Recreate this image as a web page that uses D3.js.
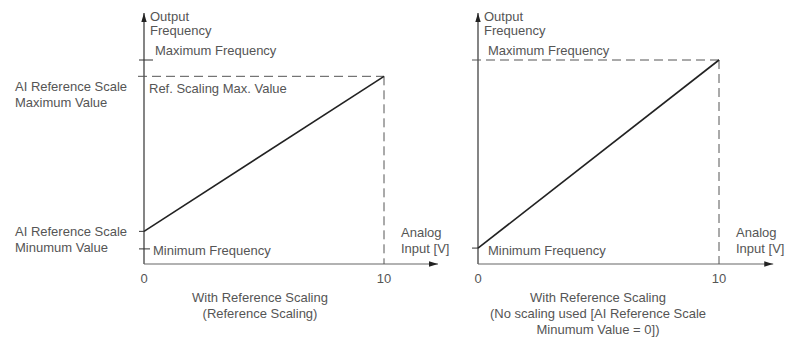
<!DOCTYPE html>
<html><head><meta charset="utf-8">
<script src="https://cdn.jsdelivr.net/npm/d3@7"></script>
<style>
html,body{margin:0;padding:0;background:#fff;}
svg text{font-family:"Liberation Sans",Arial,sans-serif;font-size:13px;fill:#555;}
</style></head>
<body><svg id="c" width="786" height="339"></svg>
<script>
// ---- data ----
const xTicks = [0, 10];
const leftLine = [{x: 0, y: 16}, {x: 10, y: 92}];
const rightLine = [{x: 0, y: 7.8}, {x: 10, y: 100}];
const leftLevels = {maxFreq: 100, refMax: 92, aiMin: 16, minFreq: 7.4};
const rightLevels = {maxFreq: 100, minFreq: 7.8};
const xAxisLabel = ["Analog", "Input [V]"];
const yAxisLabel = ["Output", "Frequency"];
const leftTitle = ["With Reference Scaling", "(Reference Scaling)"];
const rightTitle = ["With Reference Scaling", "(No scaling used [AI Reference Scale", "Minumum Value = 0])"];

const svg = d3.select("#c");
const defs = svg.append("defs");
defs.append("marker").attr("id","arr").attr("viewBox","0 0 10 10")
  .attr("refX",10).attr("refY",5).attr("markerWidth",9).attr("markerHeight",9)
  .attr("markerUnits","userSpaceOnUse").attr("orient","auto")
  .append("path").attr("d","M0,2 L10,5 L0,8 Z").attr("fill","#222");

function panel(x0, x10, cfg) {
  const x = d3.scaleLinear().domain([0, 10]).range([x0, x10]);
  const y = d3.scaleLinear().domain([0, 100]).range([264, 60]);
  const g = svg.append("g");
  // axes
  g.append("line").attr("x1", x(0)).attr("x2", x(0)).attr("y1", y(0)).attr("y2", y(123))
    .attr("stroke","#333").attr("stroke-width",1.2).attr("marker-end","url(#arr)");
  g.append("line").attr("x1", x(0)).attr("x2", x(12.25)).attr("y1", y(0)).attr("y2", y(0))
    .attr("stroke","#666").attr("stroke-width",1.2).attr("marker-end","url(#arr)");
  // tick labels
  g.selectAll(".xt").data(xTicks).enter().append("text")
    .attr("x", d => x(d)).attr("y", 283).attr("text-anchor","middle").text(d => d);
  // axis labels
  g.selectAll(".yl").data(yAxisLabel).enter().append("text")
    .attr("x", x(0) + 6).attr("y", (d,i) => 21 + i*14).text(d => d);
  g.selectAll(".xl").data(xAxisLabel).enter().append("text")
    .attr("x", x(10) + 17).attr("y", (d,i) => 237 + i*16).text(d => d);
  // titles
  g.selectAll(".tt").data(cfg.title).enter().append("text")
    .attr("x", cfg.titleX).attr("y", (d,i) => 302 + i*16).attr("text-anchor","middle").text(d => d);
  // dashed guides
  const top = cfg.line[1];
  g.append("line").attr("x1", x(0) - 6).attr("x2", x(top.x)).attr("y1", y(top.y)).attr("y2", y(top.y))
    .attr("stroke","#555").attr("stroke-width",1).attr("stroke-dasharray","9,5");
  g.append("line").attr("x1", x(top.x)).attr("x2", x(top.x)).attr("y1", y(top.y)).attr("y2", y(0))
    .attr("stroke","#555").attr("stroke-width",1).attr("stroke-dasharray","9,5");
  // data line
  g.append("path").datum(cfg.line)
    .attr("d", d3.line().x(d => x(d.x)).y(d => y(d.y)))
    .attr("fill","none").attr("stroke","#222").attr("stroke-width",1.6);
  return {g, x, y};
}

// left panel
const L = panel(144, 384, {line: leftLine, title: leftTitle, titleX: 260});
L.g.append("line").attr("x1", L.x(0) - 5).attr("x2", L.x(0) + 9)
  .attr("y1", L.y(leftLevels.maxFreq)).attr("y2", L.y(leftLevels.maxFreq)).attr("stroke","#333").attr("stroke-width",1);
L.g.append("line").attr("x1", L.x(0) - 5).attr("x2", L.x(0) + 6)
  .attr("y1", L.y(leftLevels.minFreq)).attr("y2", L.y(leftLevels.minFreq)).attr("stroke","#333").attr("stroke-width",1);
L.g.append("line").attr("x1", L.x(0) - 5).attr("x2", L.x(0))
  .attr("y1", L.y(leftLevels.aiMin)).attr("y2", L.y(leftLevels.aiMin)).attr("stroke","#333").attr("stroke-width",1);
L.g.append("text").attr("x", L.x(0) + 11).attr("y", 55).text("Maximum Frequency");
L.g.append("text").attr("x", L.x(0) + 5).attr("y", 93).text("Ref. Scaling Max. Value");
L.g.append("text").attr("x", L.x(0) + 9).attr("y", 255).text("Minimum Frequency");
L.g.selectAll(".ml").data(["AI Reference Scale", "Maximum Value"]).enter().append("text")
  .attr("x", 15).attr("y", (d,i) => 91 + i*16).text(d => d);
L.g.selectAll(".nl").data(["AI Reference Scale", "Minumum Value"]).enter().append("text")
  .attr("x", 15).attr("y", (d,i) => 236 + i*16).text(d => d);

// right panel
const R = panel(478, 719, {line: rightLine, title: rightTitle, titleX: 598});
R.g.append("line").attr("x1", R.x(0) - 6).attr("x2", R.x(0))
  .attr("y1", R.y(rightLevels.minFreq)).attr("y2", R.y(rightLevels.minFreq)).attr("stroke","#333").attr("stroke-width",1);
R.g.append("text").attr("x", R.x(0) + 10).attr("y", 55).text("Maximum Frequency");
R.g.append("text").attr("x", R.x(0) + 10).attr("y", 255).text("Minimum Frequency");
</script></body></html>
